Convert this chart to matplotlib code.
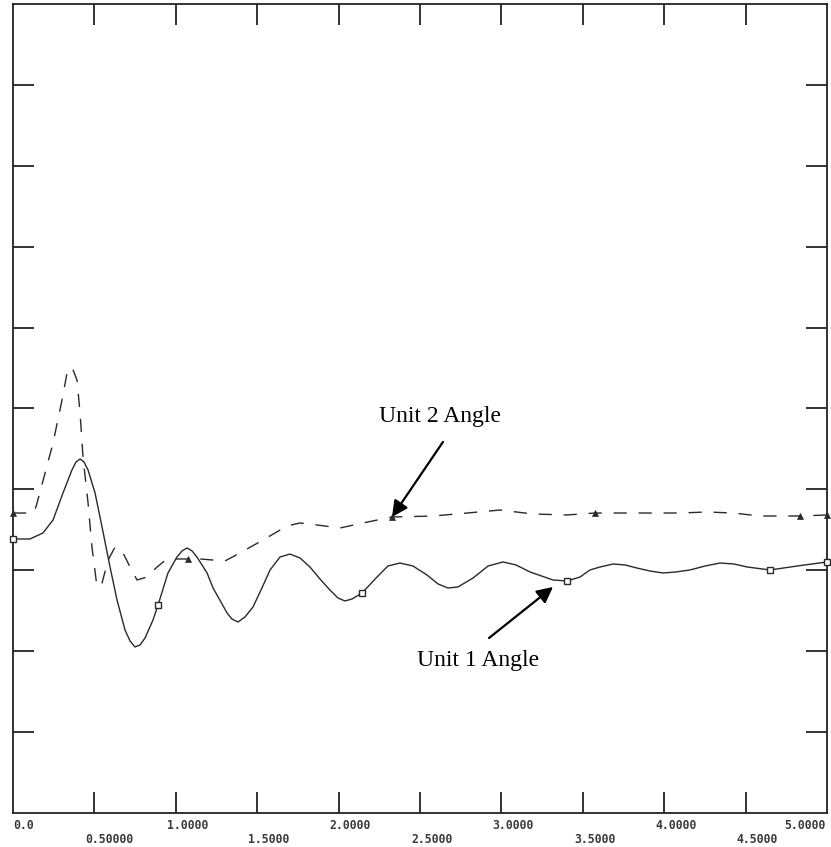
import matplotlib
matplotlib.use("Agg")
import matplotlib.pyplot as plt
import numpy as np

# valori (tempo in s, angolo in unita arbitrarie 0..10)
t1 = [0.0, 0.055, 0.104, 0.184, 0.246, 0.307, 0.362, 0.387, 0.412, 0.436,
      0.461, 0.504, 0.547, 0.596, 0.639, 0.688, 0.719, 0.749, 0.780, 0.811,
      0.860, 0.891, 0.952, 1.007, 1.038, 1.069, 1.100, 1.130, 1.192, 1.229,
      1.315, 1.345, 1.382, 1.425, 1.474, 1.529, 1.579, 1.640, 1.701, 1.763,
      1.824, 1.886, 1.947, 1.996, 2.039, 2.082, 2.144, 2.236, 2.303, 2.377,
      2.457, 2.543, 2.611, 2.672, 2.733, 2.826, 2.918, 3.010, 3.090, 3.176,
      3.317, 3.403, 3.483, 3.544, 3.606, 3.686, 3.759, 3.833, 3.913, 3.993,
      4.071, 4.158, 4.251, 4.343, 4.429, 4.509, 4.650, 4.816, 5.0]
unit1 = [3.387, 3.387, 3.387, 3.461, 3.622, 3.956, 4.240, 4.339, 4.376, 4.339,
         4.240, 3.956, 3.535, 3.041, 2.633, 2.262, 2.126, 2.052, 2.077, 2.163,
         2.386, 2.571, 2.967, 3.164, 3.239, 3.276, 3.239, 3.164, 2.967, 2.781,
         2.472, 2.398, 2.361, 2.423, 2.546, 2.781, 3.004, 3.164, 3.201, 3.152,
         3.041, 2.892, 2.756, 2.658, 2.621, 2.645, 2.719, 2.917, 3.053, 3.090,
         3.053, 2.942, 2.831, 2.781, 2.794, 2.905, 3.053, 3.103, 3.066, 2.979,
         2.880, 2.868, 2.917, 3.004, 3.041, 3.078, 3.066, 3.028, 2.991, 2.967,
         2.979, 3.004, 3.053, 3.090, 3.078, 3.041, 3.004, 3.053, 3.103]

t2 = [0.0, 0.123, 0.141, 0.197, 0.246, 0.301, 0.332, 0.362, 0.393, 0.412,
      0.430, 0.461, 0.485, 0.516, 0.547, 0.584, 0.627, 0.676, 0.719, 0.762,
      0.823, 0.885, 0.946, 1.007, 1.075, 1.149, 1.229, 1.302, 1.394, 1.536,
      1.683, 1.763, 1.867, 2.009, 2.150, 2.328, 2.580, 2.789, 2.991, 3.194,
      3.403, 3.575, 3.771, 3.931, 4.097, 4.263, 4.423, 4.589, 4.730, 4.834,
      5.0]
unit2 = [3.708, 3.708, 3.782, 4.203, 4.574, 5.105, 5.439, 5.513, 5.352, 4.944,
         4.400, 3.832, 3.288, 2.794, 2.843, 3.127, 3.288, 3.214, 3.041, 2.880,
         2.917, 3.041, 3.140, 3.140, 3.140, 3.140, 3.127, 3.115, 3.214, 3.375,
         3.548, 3.585, 3.560, 3.523, 3.585, 3.659, 3.671, 3.708, 3.745, 3.696,
         3.684, 3.708, 3.708, 3.708, 3.708, 3.721, 3.708, 3.671, 3.671, 3.671,
         3.684]

mark1_t = [0.0, 0.891, 2.144, 3.403, 4.650, 5.0]
mark2_t = [0.0, 1.075, 2.328, 3.575, 4.834, 5.0]

xtick_vals = [0.0, 0.5, 1.0, 1.5, 2.0, 2.5, 3.0, 3.5, 4.0, 4.5, 5.0]
xtick_labels = ["0.0", "0.50000", "1.0000", "1.5000", "2.0000", "2.5000",
                "3.0000", "3.5000", "4.0000", "4.5000", "5.0000"]
ytick_vals = [1, 2, 3, 4, 5, 6, 7, 8, 9]

fig = plt.figure(figsize=(8.31, 8.47), dpi=100)
ax = fig.add_axes([13/831, 1-813/847, 814/831, 809/847])

col = "#2a2a2a"
ax.plot(t1, unit1, color=col, lw=1.0, solid_joinstyle='round')
ax.plot(t2, unit2, color=col, lw=1.0, dashes=(9.5, 8.5))

idx1 = [t1.index(v) for v in mark1_t]
idx2 = [t2.index(v) for v in mark2_t]
ax.plot(np.array(t1)[idx1], np.array(unit1)[idx1], ls='none', marker='s', ms=5,
        mfc='white', mec=col, mew=1.0, clip_on=False, zorder=4)
ax.plot(np.array(t2)[idx2], np.array(unit2)[idx2], ls='none', marker='^', ms=5,
        mfc=col, mec=col, mew=0.5, clip_on=False, zorder=4)

ax.set_xlim(0, 5)
ax.set_ylim(0, 10)
ax.set_xticks(xtick_vals[1:-1])
ax.set_yticks(ytick_vals)
ax.set_xticklabels([])
ax.set_yticklabels([])
ax.tick_params(direction='in', length=15, width=1.3, color='#222222',
               top=True, right=True, left=True, bottom=True)
for s in ax.spines.values():
    s.set_linewidth(1.3)
    s.set_color('#222222')

# etichette asse x su due righe
trans = ax.get_xaxis_transform()
for i, (v, lab) in enumerate(zip(xtick_vals, xtick_labels)):
    yy = -0.007 if i % 2 == 0 else -0.025
    if i == 0:
        x, ha = v, 'left'
    elif i == len(xtick_vals) - 1:
        x, ha = v - 0.01, 'right'
    else:
        x, ha = v - 0.055, 'left'
    ax.text(x, yy, lab, transform=trans, ha=ha, va='top', fontsize=8.3,
            family='DejaVu Sans Mono', fontweight='bold', color='#3a3a3a')

arrow = dict(arrowstyle='-|>', mutation_scale=24, lw=1.6, color='black',
             shrinkA=0, shrinkB=0)
ax.annotate('', xy=(2.328, 3.659), xytext=(2.641, 4.586), arrowprops=arrow)
ax.text(2.623, 4.895, 'Unit 2 Angle', ha='center', va='center',
        family='Liberation Serif', fontsize=17)
ax.annotate('', xy=(3.317, 2.794), xytext=(2.924, 2.163), arrowprops=arrow)
ax.text(2.856, 1.891, 'Unit 1 Angle', ha='center', va='center',
        family='Liberation Serif', fontsize=17)

plt.savefig('out.png', dpi=100)
